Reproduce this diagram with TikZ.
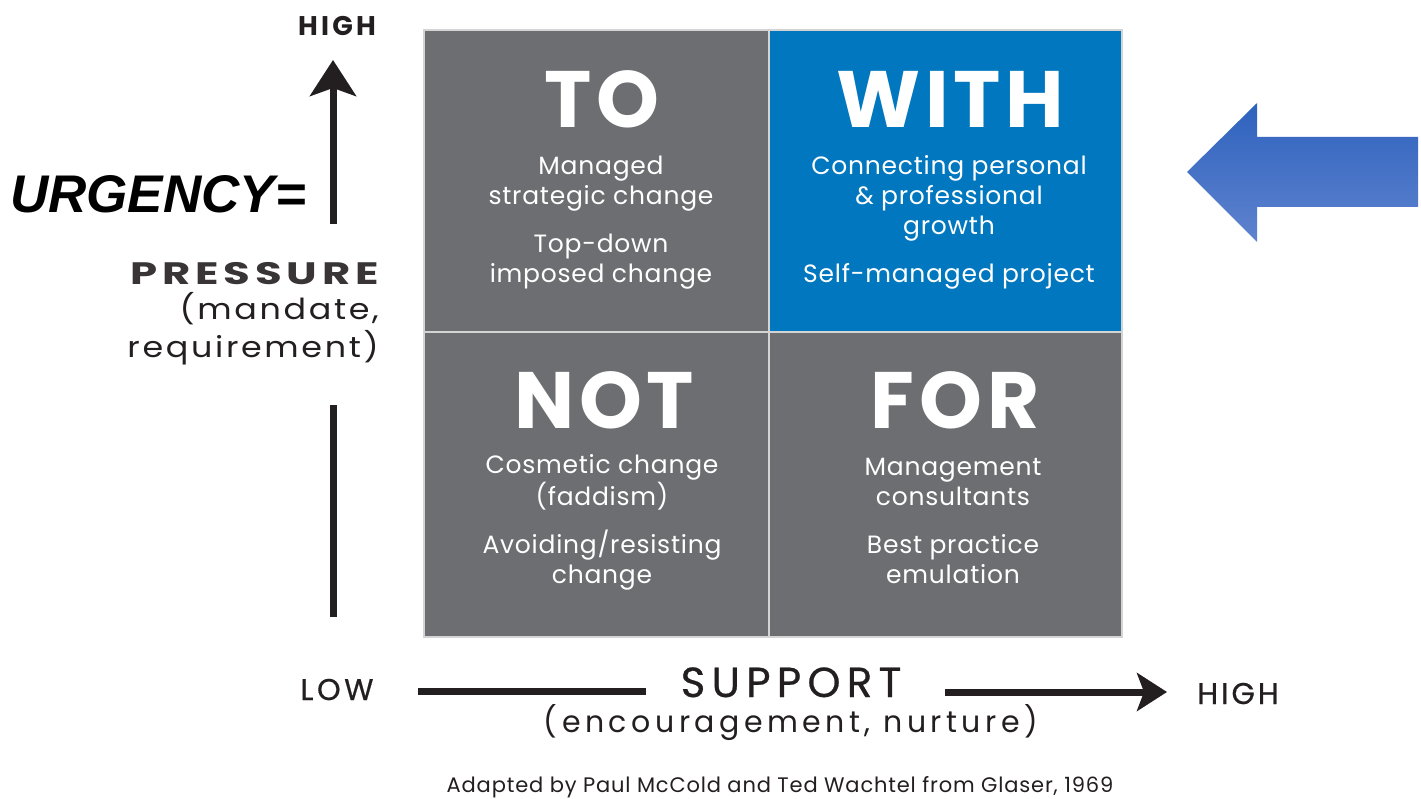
\documentclass[tikz,border=0pt]{standalone}
\usepackage{fontspec}
\setmainfont{Poppins}
\newfontfamily\urgfont{Liberation Sans}
\usetikzlibrary{arrows.meta}
\definecolor{qgray}{HTML}{6D6E71}
\definecolor{qblue}{HTML}{0077BE}
\definecolor{ink}{HTML}{231F20}
\definecolor{qedge}{HTML}{D4D4D4}
\definecolor{arrtop}{HTML}{2E62BE}
\definecolor{arrbot}{HTML}{5F83CE}
\tikzset{
  quad/.style={draw=qedge, line width=2pt, minimum width=#1, inner sep=0pt},
  title/.style={font=\fontsize{80}{86}\selectfont\bfseries\addfontfeatures{LetterSpace=6}, text=white, inner sep=0pt, anchor=base},
  body/.style={font=\fontsize{25}{30}\selectfont\addfontfeatures{LetterSpace=3}, text=white, align=center, inner sep=0pt, anchor=base},
  axislbl/.style={text=ink, inner sep=0pt, anchor=base},
  axisline/.style={draw=ink, line width=7pt},
}
\begin{document}
\begin{tikzpicture}[x=1pt,y=-1pt]
\useasboundingbox (0,0) rectangle (1421,799);
\fill[white] (0,0) rectangle (1421,799);

% quadrants
\node[quad=345pt, minimum height=302pt, fill=qgray] (qto) at (596.5,181) {};
\node[quad=353pt, minimum height=302pt, fill=qblue] (qwith) at (945.5,181) {};
\node[quad=345pt, minimum height=305pt, fill=qgray] (qnot) at (596.5,484.5) {};
\node[quad=353pt, minimum height=305pt, fill=qgray] (qfor) at (945.5,484.5) {};

% titles
\node[title] (tto) at (602,128) {TO};
\node[title] (twith) at (950,128) {WITH};
\node[title] (tnot) at (604,428) {NOT};
\node[title] (tfor) at (955,428) {FOR};

% quadrant texts (y = baseline of last line)
\node[body] (to1) at (601,205) {Managed\\strategic change};
\node[body] (to2) at (601,283) {Top-down\\imposed change};
\node[body] (wi1) at (949,235) {Connecting personal\\\& professional\\growth};
\node[body] (wi2) at (949,283) {Self-managed project};
\node[body] (no1) at (602,505) {Cosmetic change\\(faddism)};
\node[body] (no2) at (602,583) {Avoiding/resisting\\change};
\node[body] (fo1) at (953,505) {Management\\consultants};
\node[body] (fo2) at (953,583) {Best practice\\emulation};

% vertical axis
\node[axislbl, font=\fontsize{27}{30}\selectfont\bfseries\addfontfeatures{LetterSpace=12}] (vhigh) at (337,36) {HIGH};
\coordinate (vtop) at (333,60);
\coordinate (vmid) at (333,224);
\coordinate (vlow1) at (333,405);
\coordinate (vlow2) at (333,617);
\draw[axisline, -{Stealth[length=36pt,width=46pt,inset=8pt]}] (vmid) -- (vtop);
\draw[axisline] (vlow1) -- (vlow2);
\node[axislbl, anchor=base east, text=ink!90] (press) at (379,285) {\scalebox{1.4}[1]{\fontsize{31}{36}\selectfont\bfseries\addfontfeatures{LetterSpace=11}PRESSURE}};
\node[axislbl, anchor=base east] (mand) at (379,320) {\scalebox{1.15}[1]{\fontsize{29}{36}\selectfont\addfontfeatures{LetterSpace=8}(mandate,}};
\node[axislbl, anchor=base east] (requ) at (379,358) {\scalebox{1.15}[1]{\fontsize{29}{36}\selectfont\addfontfeatures{LetterSpace=8}requirement)}};
\node[anchor=base west, inner sep=0pt, font=\urgfont\fontsize{53}{60}\selectfont\bfseries\itshape, text=black] (urg) at (10,213) {URGENCY=};

% horizontal axis
\node[axislbl, font=\fontsize{30}{34}\selectfont\addfontfeatures{LetterSpace=12,FakeBold=0.6}] (hlow) at (337,700) {LOW};
\node[axislbl, font=\fontsize{42}{46}\selectfont\addfontfeatures{LetterSpace=15,FakeBold=0.6}] (supp) at (791,697) {SUPPORT};
\node[axislbl, font=\fontsize{30}{34}\selectfont\addfontfeatures{LetterSpace=15}] (enc) at (791,732) {(encouragement, nurture)};
\node[axislbl, font=\fontsize{30}{34}\selectfont\addfontfeatures{LetterSpace=10,FakeBold=0.6}] (hhigh) at (1238,704) {HIGH};
\coordinate (hl1) at (418,691);
\coordinate (hl2) at (646,691);
\coordinate (hr1) at (945,692);
\coordinate (hr2) at (1167,692);
\draw[axisline] (hl1) -- (hl2);
\draw[axisline, -{Stealth[length=30pt,width=38pt,inset=7pt]}] (hr1) -- (hr2);

\node[axislbl, font=\fontsize{21}{24}\selectfont\addfontfeatures{LetterSpace=4}] (cred) at (780,792) {Adapted by Paul McCold and Ted Wachtel from Glaser, 1969};

% blue arrow
\shade[top color=arrtop, bottom color=arrbot]
  (1187,172) -- (1257,103) -- (1257,137) -- (1418,137) -- (1418,207) -- (1257,207) -- (1257,242) -- cycle;
\end{tikzpicture}
\end{document}
